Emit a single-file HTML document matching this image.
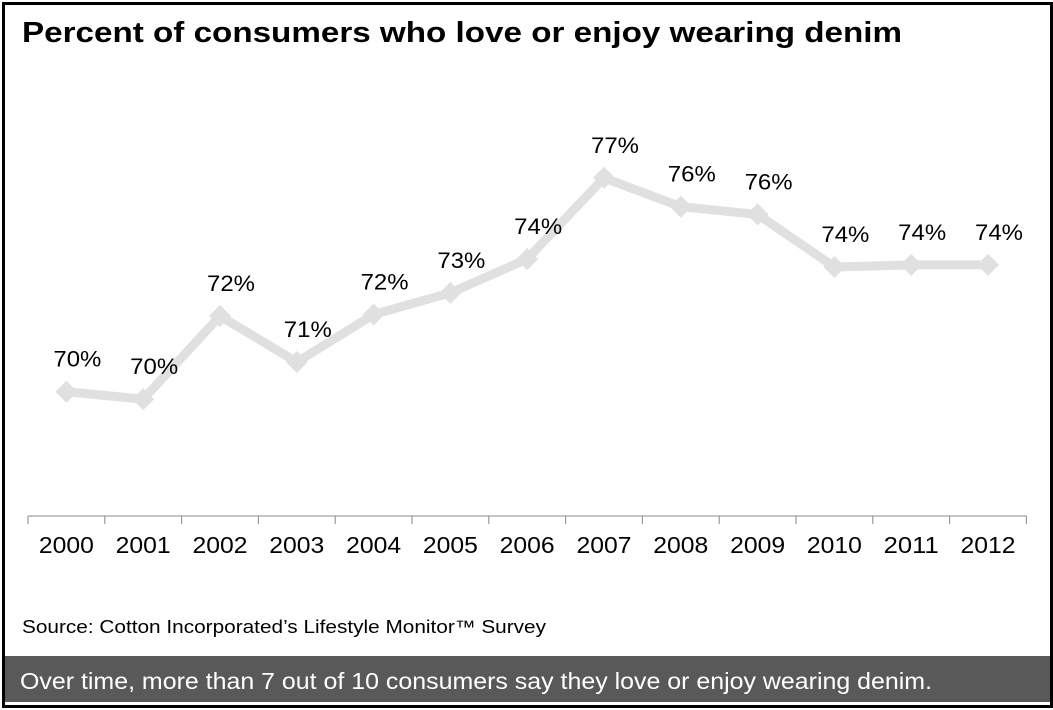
<!DOCTYPE html>
<html><head><meta charset="utf-8"><style>
body{margin:0;width:1053px;height:710px;background:#fff;font-family:"Liberation Sans",Arial,sans-serif;overflow:hidden}
#frame{position:absolute;left:2px;top:2px;width:1045px;height:700px;border:3px solid #000;box-sizing:content-box}
</style></head><body>
<div id="frame"></div>
<svg width="1053" height="710" style="position:absolute;left:0;top:0">
<text x="22" y="42" font-size="29" font-weight="bold" textLength="880" lengthAdjust="spacingAndGlyphs">Percent of consumers who love or enjoy wearing denim</text>
<g id="axis"></g><g id="series"></g><g id="labels"></g>
<text x="22" y="633" font-size="18" textLength="524" lengthAdjust="spacingAndGlyphs">Source: Cotton Incorporated’s Lifestyle Monitor™ Survey</text>
<rect x="5" y="656" width="1045" height="46" fill="#595959"/>
<text x="20" y="689" font-size="23" fill="#fff" textLength="912" lengthAdjust="spacingAndGlyphs">Over time, more than 7 out of 10 consumers say they love or enjoy wearing denim.</text>
</svg>
<script>
const years=["2000","2001","2002","2003","2004","2005","2006","2007","2008","2009","2010","2011","2012"];
const values=[69.8,69.55,72.35,70.8,72.4,73.13,74.27,77,76.03,75.77,74,74.07,74.07];
const labels=["70%","70%","72%","71%","72%","73%","74%","77%","76%","76%","74%","74%","74%"];
const NS="http://www.w3.org/2000/svg";
const x0=28,step=76.8;
const xs=i=>x0+step*(i+0.5);
const ys=v=>267-(v-74)*29.7;
function mk(t,a,p){const e=document.createElementNS(NS,t);for(const k in a)e.setAttribute(k,a[k]);p.appendChild(e);return e;}
const ax=document.getElementById('axis'),se=document.getElementById('series'),lb=document.getElementById('labels');
const axl=mk('line',{x1:x0,y1:516,x2:x0+step*years.length,y2:516,stroke:'#888','stroke-width':1},ax);


for(let i=0;i<=years.length;i++){const t=mk('line',{x1:x0+step*i,y1:516,x2:x0+step*i,y2:524,stroke:'#888'},ax);

}
years.forEach((y,i)=>{const t=mk('text',{x:xs(i),y:553,'font-size':23,'text-anchor':'middle',textLength:55,lengthAdjust:'spacingAndGlyphs'},ax);t.textContent=y;

});
const pl=mk('polyline',{points:values.map((v,i)=>xs(i)+','+ys(v)).join(' '),fill:'none',stroke:'#e0e0e0','stroke-width':9,'stroke-linejoin':'round'},se);


values.forEach((v,i)=>{const cx=xs(i),cy=ys(v);
const d=mk('polygon',{points:`${cx-11},${cy} ${cx},${cy-11} ${cx+11},${cy} ${cx},${cy+11}`,fill:'#e0e0e0'},se);


const t=mk('text',{x:cx+11,y:cy-25,'font-size':22,'text-anchor':'middle',textLength:48,lengthAdjust:'spacingAndGlyphs'},lb);t.textContent=labels[i];

});
</script>
</body></html>
